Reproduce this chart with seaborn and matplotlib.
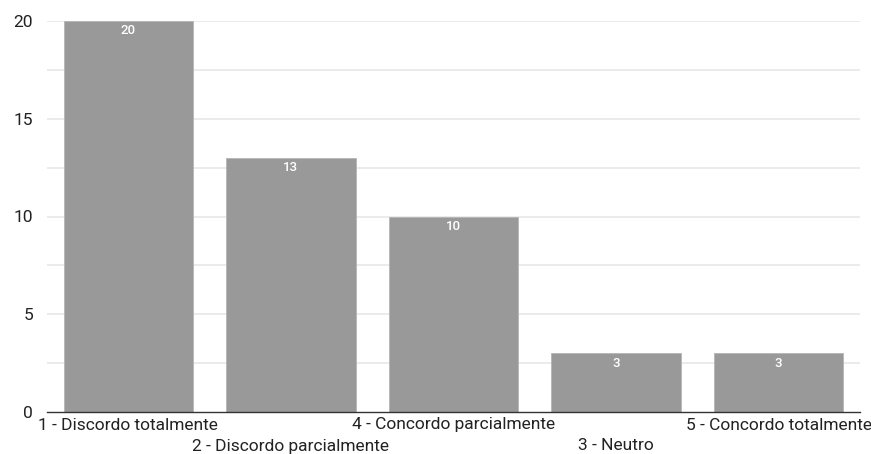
import matplotlib
matplotlib.use("Agg")
import matplotlib.pyplot as plt
import seaborn as sns
import pandas as pd

categories = [
    "1 - Discordo totalmente",
    "2 - Discordo parcialmente",
    "4 - Concordo parcialmente",
    "3 - Neutro",
    "5 - Concordo totalmente",
]
counts = [20, 13, 10, 3, 3]
y_ticks = [0, 5, 10, 15, 20]

sns.set_style("white")
plt.rcParams["font.family"] = ["Roboto", "DejaVu Sans"]

df = pd.DataFrame({"categoria": categories, "respostas": counts})

W, H = 871, 454
fig = plt.figure(figsize=(W / 100, H / 100), dpi=100)
ax = fig.add_axes([47 / W, (H - 412) / H, (860 - 47) / W, (412 - 21) / H])

sns.barplot(data=df, x="categoria", y="respostas", color="#999999",
            saturation=1, width=0.795, edgecolor="#b5b5b5", linewidth=0.6,
            ax=ax, zorder=3)

ax.set_xlim(-0.5, len(categories) - 0.5)
ax.set_ylim(0, 20)

# grid lines every 2.5, labels every 5
for v in [2.5 * i for i in range(1, 9)]:
    ax.axhline(v, color="#e8e8e8", linewidth=1.2, zorder=1)
ax.set_yticks(y_ticks)
ax.set_yticklabels([str(t) for t in y_ticks], fontsize=12.5, color="#222222")
ax.tick_params(axis="y", length=0, pad=10)

# staggered category labels
ax.set_xticks(range(len(categories)))
ax.set_xticklabels([])
ax.tick_params(axis="x", length=0)
for i, name in enumerate(categories):
    offset = 13 if i % 2 == 0 else 34
    ax.annotate(name, xy=(i, 0), xycoords=("data", "axes fraction"),
                xytext=(0, -offset), textcoords="offset pixels",
                ha="center", va="center", fontsize=12.5, color="#222222")

ax.set_xlabel("")
ax.set_ylabel("")

for s in ["top", "right", "left"]:
    ax.spines[s].set_visible(False)
ax.spines["bottom"].set_color("#333333")
ax.spines["bottom"].set_linewidth(1)
ax.spines["bottom"].set_zorder(4)

# value labels inside the bars
for i, v in enumerate(counts):
    ax.annotate(str(v), xy=(i, v), xytext=(0, -10), textcoords="offset pixels",
                ha="center", va="center", fontsize=9.5, color="white",
                fontweight="medium", zorder=5)

fig.savefig("out.png", dpi=100, facecolor="white")
